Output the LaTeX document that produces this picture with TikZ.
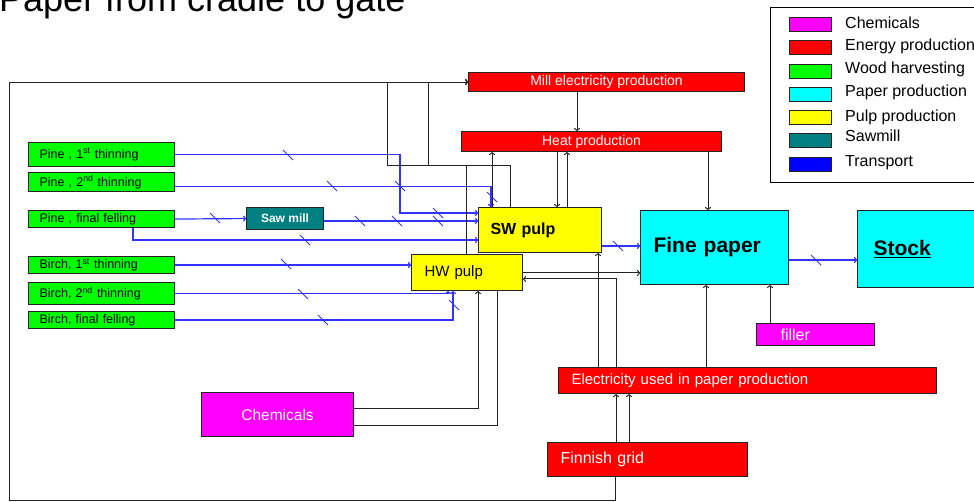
\documentclass[tikz,border=0pt]{standalone}
\usepackage{fontspec}
\setmainfont{Liberation Sans}
\usetikzlibrary{arrows.meta}
\definecolor{tealc}{RGB}{0,128,128}
\definecolor{blc}{RGB}{51,51,255}
\definecolor{lnc}{RGB}{35,35,35}
\definecolor{magc}{RGB}{255,0,255}
\definecolor{cync}{RGB}{0,255,255}
\definecolor{grnc}{RGB}{0,255,0}
\definecolor{redc}{RGB}{255,0,0}
\definecolor{yelc}{RGB}{255,255,0}
\definecolor{bluc}{RGB}{0,0,255}
\begin{document}
\begin{tikzpicture}[x=1pt,y=-1pt,
  bx/.style={draw=lnc, line width=1.1pt, anchor=north west, inner ysep=0pt, inner xsep=0pt},
  grn/.style={bx, fill=grnc, minimum width=146pt, text width=124pt, inner xsep=11pt, align=left,
    font=\fontsize{12.5}{13}\selectfont},
  red/.style={bx, fill=redc, text=white},
  mag/.style={bx, fill=magc, text=white},
  yel/.style={bx, fill=yelc},
  cyn/.style={bx, fill=cync},
  bl/.style={draw=blc, line width=1.2pt},
  bk/.style={draw=lnc, line width=1pt},
  arr/.style={-{To[length=3pt,width=6pt]}},
  sw/.style={draw=lnc, line width=1pt, anchor=north west, minimum width=42pt, minimum height=14pt, inner sep=0pt},
  lg/.style={anchor=base west, inner sep=0pt, font=\fontsize{16}{18}\selectfont},
  tk/.pic={\draw[draw=blc, line width=1pt] (-5,-5) -- (5,5);}
]
\useasboundingbox (0,0) rectangle (974,502);

% title (cropped at top, as in the reference)
\node[anchor=base west, inner sep=0pt, font=\fontsize{36}{40}\selectfont] (title) at (-1,12) {Paper from cradle to gate};

% legend
\node[bx, draw=black, line width=1pt, minimum width=225pt, minimum height=175pt] (legend) at (770,7) {};
\node[sw, fill=magc] (lg1) at (789,17) {};
\node[sw, fill=redc] (lg2) at (789,40) {};
\node[sw, fill=grnc] (lg3) at (789,64) {};
\node[sw, fill=cync] (lg4) at (789,87) {};
\node[sw, fill=yelc] (lg5) at (789,110) {};
\node[sw, fill=tealc] (lg6) at (789,133) {};
\node[sw, fill=bluc] (lg7) at (789,157) {};
\node[lg] (lt1) at (845,29) {Chemicals};
\node[lg] (lt2) at (845,51) {Energy production};
\node[lg] (lt3) at (845,74) {Wood harvesting};
\node[lg] (lt4) at (845,97) {Paper production};
\node[lg] (lt5) at (845,122) {Pulp production};
\node[lg] (lt6) at (845,142) {Sawmill};
\node[lg] (lt7) at (845,167) {Transport};

% wood harvesting
\node[grn, minimum height=24pt] (p1) at (28,142) {Pine , 1\textsuperscript{st} thinning};
\node[grn, minimum height=19pt] (p2) at (28,172) {Pine , 2\textsuperscript{nd} thinning};
\node[grn, minimum height=17pt] (p3) at (28,210) {Pine , final felling};
\node[grn, minimum height=17pt] (b1) at (28,256) {Birch, 1\textsuperscript{st} thinning};
\node[grn, minimum height=22pt] (b2) at (28,282) {Birch, 2\textsuperscript{nd} thinning};
\node[grn, minimum height=17pt] (b3) at (28,311) {Birch, final felling};

\node[bx, fill=tealc, text=white, minimum width=77pt, minimum height=22pt,
  font=\bfseries\fontsize{12}{13}\selectfont] (saw) at (246,207) {Saw mill};

% pulp
\node[yel, minimum width=123pt, minimum height=45pt, text width=99pt, inner xsep=12pt, align=left,
  font=\bfseries\fontsize{16}{18}\selectfont] (sw) at (478,207) {SW pulp};
\node[yel, minimum width=111pt, minimum height=36pt, text width=85pt, inner xsep=13pt, align=left,
  font=\fontsize{15}{17}\selectfont] (hw) at (411,254) {HW pulp};

% paper
\node[cyn, minimum width=148pt, minimum height=74pt, text width=122pt, inner xsep=13pt, align=left,
  font=\bfseries\fontsize{21}{24}\selectfont] (fine) at (640,210) {Fine paper};
\node[cyn, minimum width=130pt, minimum height=77pt, text width=98pt, inner xsep=16pt, align=left,
  font=\bfseries\fontsize{21}{24}\selectfont] (stock) at (857,210) {\underline{Stock}};

% energy
\node[red, minimum width=276pt, minimum height=19pt, font=\fontsize{14}{15}\selectfont] (mill) at (468,72) {Mill electricity production};
\node[red, minimum width=260pt, minimum height=20pt, font=\fontsize{14}{15}\selectfont] (heat) at (461,131) {Heat production};
\node[red, minimum width=378pt, minimum height=26pt, text width=352pt, inner xsep=13pt, align=left,
  font=\fontsize{15}{17}\selectfont] (elec) at (558,367) {Electricity used in paper production};
\node[red, minimum width=200pt, minimum height=34pt, text width=174pt, inner xsep=13pt, align=left,
  font=\fontsize{16}{18}\selectfont] (grid) at (547,442) {Finnish grid};

% chemicals
\node[mag, minimum width=152pt, minimum height=44pt, font=\fontsize{15.5}{17}\selectfont] (chem) at (201,392) {Chemicals};
\node[mag, minimum width=118pt, minimum height=22pt, text width=70pt, inner xsep=24pt, align=left,
  font=\fontsize{16}{18}\selectfont] (filler) at (756,323) {filler};

% transport (blue)
\draw[bl,arr] (p1.east) -| (400,213) -- (sw.west |- 0,213);
\draw[bl,arr] ([yshift=-4.5pt]p2.east) -| (sw.north -| 491,0);
\draw[bl,arr] (p3.east) -- (saw.west);
\draw[bl,arr] (saw.east |- 0,221) -- (sw.west |- 0,221);
\draw[bl,arr] (p3.south -| 133,0) |- (sw.west |- 0,240);
\draw[bl,arr] (b1.east) -- (b1.east -| hw.west);
\draw[bl,arr] (b2.east) -| (hw.south -| 448,0);
\draw[bl,arr] (b3.east) -| (hw.south -| 453,0);
\draw[bl,arr] (sw.east |- 0,246) -- (fine.west |- 0,246);
\draw[bl,arr] (fine.east |- 0,260) -- (stock.west |- 0,260);

% transport marks
\foreach \px/\py in {288/155,332/186,400/186,492/197,438/213,215/218,360/221,397/221,438/221,305/240,286/264,303/294,323/320,454/305,618/246,816/260}
  \pic at (\px,\py) {tk};

% energy and material flows (black)
\draw[bk,arr] (mill.south -| 577,0) -- (heat.north -| 577,0);
\draw[bk,arr] (heat.south -| 708,0) -- (fine.north -| 708,0);
\draw[bk,arr] (heat.south -| 557,0) -- (sw.north -| 557,0);
\draw[bk,arr] (sw.north -| 567,0) -- (heat.south -| 567,0);
\draw[bk,arr] (sw.north -| 492,0) -- (heat.south -| 492,0);
\draw[bk,arr] (sw.north -| 510,0) |- (387,166) |- (mill.west);
\draw[bk,arr] (hw.north -| 466,0) |- (428,166) |- (mill.west);
\draw[bk,arr] (grid.south -| 615,0) |- (9,500) |- (mill.west);
\draw[bk,arr] (elec.north -| 598,0) -- (sw.south -| 598,0);
\draw[bk,arr] (elec.north -| 616,0) |- (hw.east |- 0,279);
\draw[bk,arr] (hw.east |- 0,273) -- (fine.west |- 0,273);
\draw[bk,arr] (elec.north -| 706,0) -- (fine.south -| 706,0);
\draw[bk,arr] (filler.north -| 770,0) -- (fine.south -| 770,0);
\draw[bk,arr] (grid.north -| 616,0) -- (elec.south -| 616,0);
\draw[bk,arr] (grid.north -| 629,0) -- (elec.south -| 629,0);
\draw[bk,arr] (chem.east |- 0,408) -| (hw.south -| 478,0);
\draw[bk] (chem.east |- 0,425) -| (hw.south -| 497,0);
\end{tikzpicture}
\end{document}
